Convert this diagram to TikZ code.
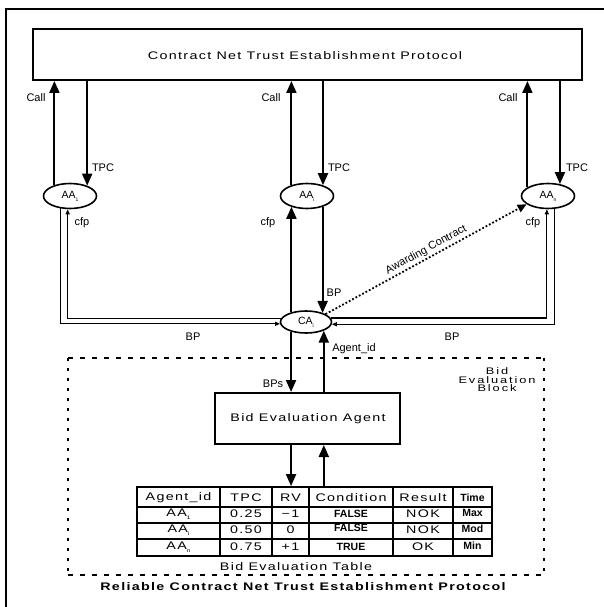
\documentclass[tikz,border=0pt]{standalone}
\usepackage{fontspec}
\setmainfont{Liberation Sans}
\newfontfamily\widefont[FakeStretch=1.3,LetterSpace=12]{Liberation Sans}
\newfontfamily\widerfont[FakeStretch=1.35,LetterSpace=20]{Liberation Sans}
\usetikzlibrary{arrows.meta,shapes.geometric}
\newcommand\mysub[1]{\raisebox{-0.3em}{\fontsize{5}{5}\selectfont #1}}
\tikzset{
  lab/.style={font=\fontsize{11}{13}\selectfont, inner sep=0},
  wide/.style={font=\widefont\fontsize{11}{13}\selectfont, inner sep=0},
  bwide/.style={font=\widefont\bfseries\fontsize{11}{13}\selectfont, inner sep=0},
  bold/.style={font=\bfseries\fontsize{10.5}{12}\selectfont, inner sep=0},
  agent/.style={ellipse, draw, line width=1.6, minimum width=53pt, minimum height=25pt, inner sep=0, font=\fontsize{10.5}{12}\selectfont},
  arr/.style={line width=2, -{Triangle[length=12pt,width=10pt]}},
  thin/.style={line width=1.3, -{Triangle[length=5pt,width=4pt]}},
  boxed/.style={draw, line width=2, inner sep=0},
}
\begin{document}
\begin{tikzpicture}[x=1pt,y=-1pt]
\useasboundingbox (0,0) rectangle (603,607);
% outer frame
\draw[line width=2] (6,612) -- (6,9) -- (610,9);
% top protocol box
\node[boxed, minimum width=549pt, minimum height=51pt] (top) at (307.5,54.5) {};
\node[wide] (title) at (305,56) {Contract Net Trust Establishment Protocol};
% agents
\node[agent] (AA1) at (70,196) {AA\mysub{1}};
\node[agent] (AAi) at (307,196) {AA\mysub{i}};
\node[agent] (AAn) at (548,196) {AA\mysub{n}};
\node[agent, minimum width=51pt, minimum height=22pt] (CA) at (306,322) {CA\mysub{i}};
% Call / TPC arrows
\draw[arr] (AA1.145.5) -- (AA1.145.5 |- top.south);
\draw[arr] (AA1.31.9 |- top.south) -- (AA1.31.9);
\draw[arr] (AAi.145.5) -- (AAi.145.5 |- top.south);
\draw[arr] (AAi.34.5 |- top.south) -- (AAi.34.5);
\draw[arr] (AAn.157.7) -- (AAn.157.7 |- top.south);
\draw[arr] (AAn.45.9 |- top.south) -- (AAn.45.9);
\node[lab] (c1) at (36,98) {Call};
\node[lab] (c2) at (271,98) {Call};
\node[lab] (c3) at (508,98) {Call};
\node[lab] (t1) at (103,168) {TPC};
\node[lab] (t2) at (339,168) {TPC};
\node[lab] (t3) at (577,168) {TPC};
% middle cfp / BP
\draw[arr] (CA.146.7) -- (CA.146.7 |- AAi.214.5);
\draw[arr] (AAi.325.5) -- (AAi.325.5 |- CA.28.2);
\node[lab] (f2) at (268,223) {cfp};
\node[lab] (bp2) at (334,293) {BP};
% left double line
\draw[thin] (AA1.232.6) |- (CA.184.7);
\draw[thin] (CA.172.9) -| (AA1.260.9);
\node[lab] (f1) at (82,223) {cfp};
\node[lab] (bp1) at (193,337) {BP};
% right double line
\draw[thin] (AAn.296.2) |- (CA.355.3);
\draw[thin] (CA.9.7) -| (AAn.265.4);
\node[lab] (f3) at (533,223) {cfp};
\node[lab] (bp3) at (452,337) {BP};
% awarding contract
\draw[line width=1.8, dotted, -{Triangle[length=9pt,width=8pt]}] (CA.22) -- node[lab, pos=0.52, sloped, above=2pt] (aw) {Awarding Contract} (AAn.201);
% bid evaluation block
\draw[line width=2, dash pattern=on 5pt off 7pt] (68,358) -- (544,358);
\draw[line width=2, dash pattern=on 5pt off 7pt] (68,575) -- (544,575);
\draw[line width=2, dash pattern=on 3pt off 7pt] (68,358) -- (68,575);
\draw[line width=2, dash pattern=on 3pt off 7pt] (544,358) -- (544,575);
\node[inner sep=0, align=center, font=\widerfont\fontsize{9.5}{8.5}\selectfont] (blk) at (497,380) {Bid\\Evaluation\\Block};
% bid evaluation agent
\node[boxed, minimum width=185pt, minimum height=51pt] (bea) at (307.5,418.5) {};
\node[wide] (beat) at (308,419) {Bid Evaluation Agent};
\draw[arr] (CA.213.3) -- (CA.213.3 |- bea.north);
\draw[arr] (bea.north -| CA.334.2) -- (CA.334.2);
\node[lab] (bps) at (273,384) {BPs};
\node[lab] (aid) at (354,349) {Agent\_id};
% table
\node[draw, line width=1.8, minimum width=355pt, minimum height=69pt, inner sep=0] (tbl) at (314.5,521.5) {};
\draw[arr] (CA.213.3 |- bea.south) -- (CA.213.3 |- tbl.north);
\draw[arr] (CA.334.2 |- tbl.north) -- (CA.334.2 |- bea.south);
\foreach \cx in {220,272,309,393,453} \draw[line width=1.6] (\cx,487) -- (\cx,556);
\foreach \ry in {507,523,539} \draw[line width=1.6] (137,\ry) -- (492,\ry);
\node[wide] (h1) at (178.5,498) {Agent\_id};
\node[wide] (h2) at (246,498) {TPC};
\node[wide] (h3) at (290.5,498) {RV};
\node[wide] (h4) at (351,498) {Condition};
\node[wide] (h5) at (423,498) {Result};
\node[bold] (h6) at (472.5,498) {Time};
\node[wide] (r11) at (178.5,514) {AA\mysub{1}};
\node[wide] (r12) at (246,514) {0.25};
\node[wide] (r13) at (290.5,514) {−1};
\node[bold] (r14) at (351,514) {FALSE};
\node[wide] (r15) at (423,514) {NOK};
\node[bold] (r16) at (472.5,513) {Max};
\node[wide] (r21) at (178.5,530) {AA\mysub{i}};
\node[wide] (r22) at (246,530) {0.50};
\node[wide] (r23) at (290.5,530) {0};
\node[bold] (r24) at (351,528) {FALSE};
\node[wide] (r25) at (423,530) {NOK};
\node[bold] (r26) at (472.5,529) {Mod};
\node[wide] (r31) at (178.5,547) {AA\mysub{n}};
\node[wide] (r32) at (246,547) {0.75};
\node[wide] (r33) at (290.5,547) {+1};
\node[bold] (r34) at (351,547) {TRUE};
\node[wide] (r35) at (423,547) {OK};
\node[bold] (r36) at (472.5,546) {Min};
\node[wide] (tcap) at (296,567) {Bid Evaluation Table};
\node[bwide] (foot) at (303,587) {Reliable Contract Net Trust Establishment Protocol};
\end{tikzpicture}
\end{document}
